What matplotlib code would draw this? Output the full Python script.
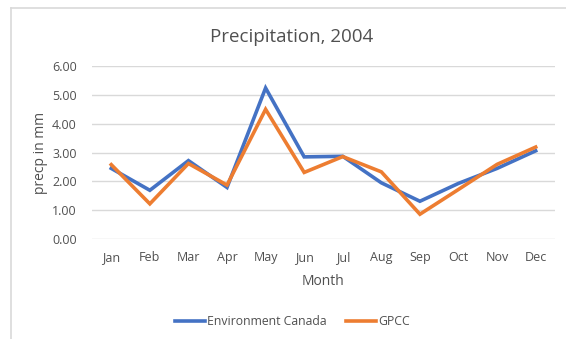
import matplotlib.pyplot as plt
from matplotlib.lines import Line2D

months = ["Jan", "Feb", "Mar", "Apr", "May", "Jun", "Jul", "Aug", "Sep", "Oct", "Nov", "Dec"]
env_canada = [2.45, 1.69, 2.72, 1.79, 5.24, 2.85, 2.87, 1.95, 1.31, 1.93, 2.45, 3.06]
gpcc = [2.58, 1.22, 2.62, 1.87, 4.50, 2.31, 2.86, 2.33, 0.86, 1.72, 2.59, 3.19]
yticks = [0, 1, 2, 3, 4, 5, 6]

plt.rcParams['font.family'] = ['Open Sans', 'DejaVu Sans']

fig = plt.figure(figsize=(5.66, 3.39), dpi=100)
ax = fig.add_axes([0.1625, 0.295, 0.818, 0.51])

x = list(range(len(months)))
ax.plot(x, env_canada, color="#4472C4", lw=2.6, label="Environment Canada", solid_joinstyle="miter")
ax.plot(x, gpcc, color="#ED7D31", lw=2.6, label="GPCC", solid_joinstyle="miter")

ax.set_xlim(-0.5, 11.5)
ax.set_ylim(0, 6)
ax.set_yticks(yticks)
ax.set_yticklabels([f"{v:.2f}" for v in yticks])
ax.set_xticks(x)
ax.set_xticklabels(months)
ax.tick_params(length=0, labelsize=9, colors="#505050", pad=9)
ax.tick_params(axis="y", pad=11)
ax.grid(axis="y", color="#D9D9D9", lw=1)
ax.set_axisbelow(True)
for s in ax.spines.values():
    s.set_visible(False)

ax.set_xlabel("Month", fontsize=10, color="#505050", labelpad=7)
ax.set_ylabel("precp in mm", fontsize=10, color="#505050", labelpad=3)
fig.text(0.515, 0.89, "Precipitation, 2004", ha="center", va="center", fontsize=13.5, color="#505050")

fig.legend(loc="center", bbox_to_anchor=(0.517, 0.052), ncol=2, frameon=False,
           fontsize=8.8, labelcolor="#505050", handlelength=2.4, handletextpad=0.2,
           columnspacing=1.6)

# light frame along the top and left edges
fig.add_artist(Line2D([10.5 / 566, 1], [1 - 8 / 339, 1 - 8 / 339], transform=fig.transFigure, color="#D9D9D9", lw=1.2))
fig.add_artist(Line2D([10.5 / 566, 10.5 / 566], [0, 1 - 8 / 339], transform=fig.transFigure, color="#D9D9D9", lw=1.2))

fig.savefig("out.png", dpi=100)
